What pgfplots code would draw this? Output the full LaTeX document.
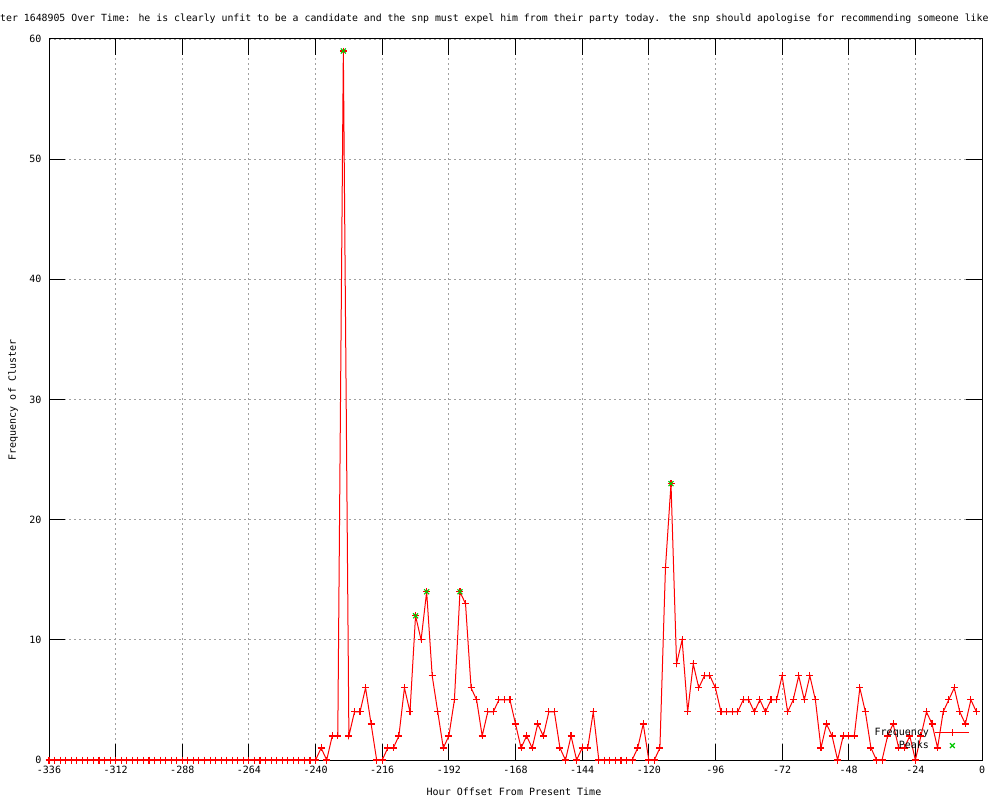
\documentclass[border=0pt]{standalone}
\usepackage{fontspec}
\setmainfont{DejaVu Sans Mono}
\setmonofont{DejaVu Sans Mono}
\usepackage{pgfplots}
\pgfplotsset{compat=1.18}
\usepackage{pgfplotstable}

\pgfplotstableread{
x y
-336 0
-334 0
-332 0
-330 0
-328 0
-326 0
-324 0
-322 0
-320 0
-318 0
-316 0
-314 0
-312 0
-310 0
-308 0
-306 0
-304 0
-302 0
-300 0
-298 0
-296 0
-294 0
-292 0
-290 0
-288 0
-286 0
-284 0
-282 0
-280 0
-278 0
-276 0
-274 0
-272 0
-270 0
-268 0
-266 0
-264 0
-262 0
-260 0
-258 0
-256 0
-254 0
-252 0
-250 0
-248 0
-246 0
-244 0
-242 0
-240 0
-238 1
-236 0
-234 2
-232 2
-230 59
-228 2
-226 4
-224 4
-222 6
-220 3
-218 0
-216 0
-214 1
-212 1
-210 2
-208 6
-206 4
-204 12
-202 10
-200 14
-198 7
-196 4
-194 1
-192 2
-190 5
-188 14
-186 13
-184 6
-182 5
-180 2
-178 4
-176 4
-174 5
-172 5
-170 5
-168 3
-166 1
-164 2
-162 1
-160 3
-158 2
-156 4
-154 4
-152 1
-150 0
-148 2
-146 0
-144 1
-142 1
-140 4
-138 0
-136 0
-134 0
-132 0
-130 0
-128 0
-126 0
-124 1
-122 3
-120 0
-118 0
-116 1
-114 16
-112 23
-110 8
-108 10
-106 4
-104 8
-102 6
-100 7
-98 7
-96 6
-94 4
-92 4
-90 4
-88 4
-86 5
-84 5
-82 4
-80 5
-78 4
-76 5
-74 5
-72 7
-70 4
-68 5
-66 7
-64 5
-62 7
-60 5
-58 1
-56 3
-54 2
-52 0
-50 2
-48 2
-46 2
-44 6
-42 4
-40 1
-38 0
-36 0
-34 2
-32 3
-30 1
-28 1
-26 2
-24 0
-22 2
-20 4
-18 3
-16 1
-14 4
-12 5
-10 6
-8 4
-6 3
-4 5
-2 4
}\freqdata

\pgfplotstableread{
x y
-230 59
-204 12
-200 14
-188 14
-112 23
}\peakdata

\definecolor{gpred}{RGB}{255,0,0}
\definecolor{gpgreen}{RGB}{0,200,0}
\definecolor{gpgrid}{RGB}{160,160,160}

\begin{document}
\begin{tikzpicture}[x=1pt,y=1pt]
\path[use as bounding box] (0,0) rectangle (1000,800);
\fill[white] (0,0) rectangle (1000,800);
\node[anchor=west, inner sep=0pt, font=\fontsize{9.85}{12}\selectfont] at (0,781) {ter 1648905 Over Time: he is clearly unfit to be a candidate and the snp must expel him from their party today. the snp should apologise for recommending someone like};
\node[inner sep=0pt, font=\fontsize{10}{12}\selectfont] at (514,8) {Hour Offset From Present Time};
\node[inner sep=0pt, rotate=90, font=\fontsize{10}{12}\selectfont] at (13,400) {Frequency of Cluster};
\begin{axis}[
  at={(49pt,40pt)}, anchor=south west,
  scale only axis, width=933pt, height=721pt,
  xmin=-336, xmax=0, ymin=0, ymax=60,
  xtick={-336,-312,-288,-264,-240,-216,-192,-168,-144,-120,-96,-72,-48,-24,0},
  ytick={0,10,20,30,40,50,60},
  xticklabels={-336,-312,-288,-264,-240,-216,-192,-168,-144,-120,-96,-72,-48,-24,0},
  yticklabels={0,10,20,30,40,50,60},
  tick label style={font=\fontsize{10}{12}\selectfont},
  xticklabel style={anchor=center, yshift=-10pt},
  yticklabel style={anchor=east, xshift=-4pt},
  axis line style={line width=1pt},
  tick align=inside,
  major tick length=16pt,
  tick style={black, line width=1pt},
  grid=major,
  major grid style={gpgrid, dash pattern=on 2pt off 3pt, line width=0.9pt},
  legend style={at={(axis cs:-4.3,2.67)}, anchor=north east, draw=none, fill=none,
    font=\fontsize{10}{12}\selectfont, inner sep=0pt, row sep=4pt, column sep=6pt,
    nodes={inner sep=0pt, text height=7pt, text depth=2pt}},
  legend plot pos=right,
  legend cell align=right,
  legend image code/.code={\draw[mark repeat=2,mark phase=2,#1] plot coordinates {(0pt,0pt) (17pt,0pt) (34pt,0pt)};},
]
\addplot[gpred, line width=1pt, mark=+, mark size=3.5pt, mark options={gpred, solid, line width=1.1pt}] table {\freqdata};
\addlegendentry{Frequency}
\addplot[only marks, gpgreen, mark=x, mark size=3.5pt, mark options={gpgreen, line width=1.1pt}] table {\peakdata};
\addlegendentry{Peaks}
\end{axis}
\end{tikzpicture}
\end{document}
